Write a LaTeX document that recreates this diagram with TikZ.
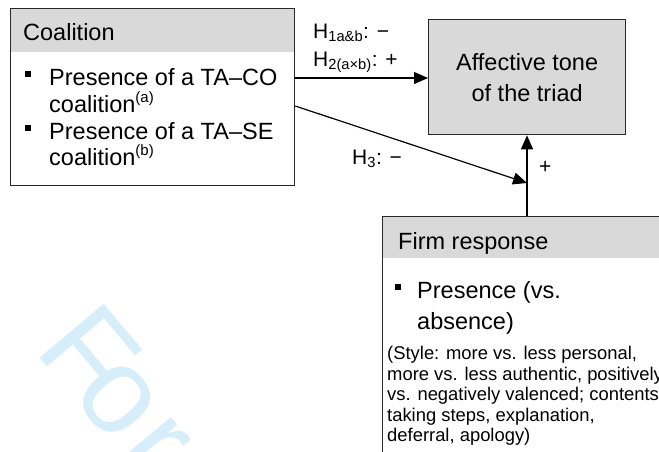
\documentclass[tikz,border=0pt]{standalone}
\usepackage{fontspec}
\setmainfont{Liberation Sans}
\usetikzlibrary{arrows.meta}
\definecolor{hdrgray}{RGB}{217,217,217}
\definecolor{boxline}{RGB}{40,40,40}
\definecolor{wmblue}{RGB}{214,238,250}
\tikzset{
  frame/.style={draw=boxline, line width=1.3pt},
  conn/.style={draw=black, line width=1.2pt, -{Triangle[length=14pt,width=12pt]}},
  big/.style={font=\fontsize{23.5}{27}\selectfont, inner sep=0pt},
  small/.style={font=\fontsize{18.4}{21}\selectfont, inner sep=0pt},
  lbl/.style={font=\fontsize{21}{24}\selectfont, inner sep=0pt},
  wm/.style={rotate=-50, text=wmblue, font=\fontsize{122}{122}\selectfont, inner sep=0pt},
}
\begin{document}
\begin{tikzpicture}[x=1pt,y=-1pt]
\useasboundingbox (0,0) rectangle (659,451);
\clip (0,0) rectangle (659,451);
% watermark
\node[wm, anchor=base west] (wmF) at (33,350) {F};
\node[wm, anchor=center] (wmo) at (117,400) {o};
\node[wm, anchor=base west] (wmr) at (116,452) {r};
% Coalition box
\fill[hdrgray] (10,8) rectangle (294,52);
\node[frame, anchor=north west, minimum width=284pt, minimum height=177pt, inner sep=0pt] (coal) at (10,8) {};
\node[big, anchor=base west] (coalh) at (23,40) {Coalition};
\fill (25,71) rectangle (31,77);
\node[big, anchor=base west] (c1) at (49,85) {Presence of a TA–CO};
\node[big, anchor=base west] (c2) at (49,112) {coalition\textsuperscript{\fontsize{15}{15}\selectfont(a)}};
\fill (25,125) rectangle (31,131);
\node[big, anchor=base west] (c3) at (49,139) {Presence of a TA–SE};
\node[big, anchor=base west] (c4) at (49,165) {coalition\textsuperscript{\fontsize{15}{15}\selectfont(b)}};
% Affective tone box
\node[frame, fill=hdrgray, anchor=north west, minimum width=197pt, minimum height=115pt, inner sep=0pt, align=center, font=\fontsize{23.5}{31}\selectfont] (aff) at (428,19) {Affective tone\\of the triad};
% Firm response box
\fill[hdrgray] (382,216) rectangle (670,258);
\node[frame, anchor=north west, minimum width=300pt, minimum height=260pt, inner sep=0pt] (firm) at (382,216) {};
\node[big, anchor=base west] (firmh) at (398,249) {Firm response};
\fill (395,284) rectangle (401,290);
\node[big, anchor=base west] (f1) at (417,298) {Presence (vs.};
\node[big, anchor=base west] (f2) at (417,329) {absence)};
\node[small, anchor=base west] (f3) at (387,359) {(Style: more vs. less personal,};
\node[small, anchor=base west] (f4) at (387,380) {more vs. less authentic, positively};
\node[small, anchor=base west] (f5) at (387,400) {vs. negatively valenced; contents:};
\node[small, anchor=base west] (f6) at (387,421) {taking steps, explanation,};
\node[small, anchor=base west] (f7) at (387,441) {deferral, apology)};
% connectors
\coordinate (s1) at (coal.east |- 0,78);
\coordinate (s2) at (coal.east |- 0,106);
\coordinate (j) at (527,183);
\draw[conn] (s1) -- (s1 -| aff.west);
\draw[conn] (s2) -- (j);
\draw[conn] (firm.north -| j) -- (aff.south -| j);
% labels
\node[lbl, anchor=base west] (h1) at (313,38) {H\textsubscript{1a\&b}: −};
\node[lbl, anchor=base west] (h2) at (313,66) {H\textsubscript{2(a×b)}: +};
\node[lbl, anchor=base west] (h3) at (352,164) {H\textsubscript{3}: −};
\node[lbl, anchor=base west] (plus) at (539,173) {+};
\end{tikzpicture}
\end{document}
